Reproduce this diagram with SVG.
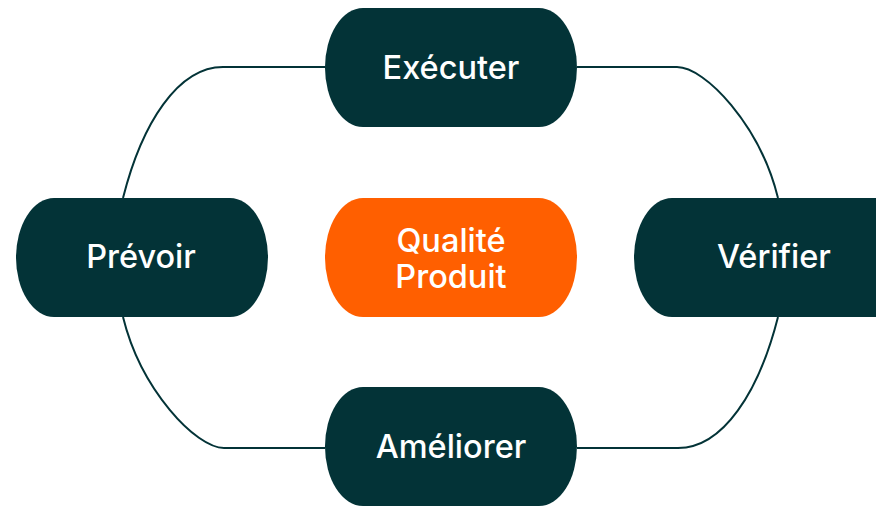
<svg xmlns="http://www.w3.org/2000/svg" width="876" height="506" viewBox="0 0 876 506">
<style>
.n{fill:#033337}
.c{fill:#FF5F00}
.t{fill:#ffffff;font-family:Inter,"Noto Sans","Liberation Sans",sans-serif;font-size:32.5px;font-weight:500;text-anchor:middle}
.l{fill:none;stroke:#033337;stroke-width:2}
</style>
<rect width="876" height="506" fill="#ffffff"/>
<g id="connectors">
<path class="l" d="M325 67 H223 C178 67 142 123 123 198"/>
<path class="l" d="M577 67 H677 C705 67 760 125 778 198"/>
<path class="l" d="M778 317 C759 392 723 448 678 448 H577"/>
<path class="l" d="M123 317 C141 390 196 448 224 448 H325"/>
</g>
<g id="executer">
<rect class="n" x="325" y="8" width="252" height="119" rx="38" ry="59.5"/>
<text class="t" x="451" y="79">Exécuter</text>
</g>
<g id="prevoir">
<rect class="n" x="16" y="198" width="252" height="119" rx="38" ry="59.5"/>
<text class="t" x="141" y="268">Prévoir</text>
</g>
<g id="qualite">
<rect class="c" x="325" y="198" width="252" height="119" rx="38" ry="59.5"/>
<text class="t" x="451" y="252">Qualité</text>
<text class="t" x="451" y="288">Produit</text>
</g>
<g id="verifier">
<rect class="n" x="634" y="198" width="280" height="119" rx="38" ry="59.5"/>
<text class="t" x="774" y="268">Vérifier</text>
</g>
<g id="ameliorer">
<rect class="n" x="325" y="387" width="252" height="119" rx="38" ry="59.5"/>
<text class="t" x="451" y="458">Améliorer</text>
</g>
</svg>
